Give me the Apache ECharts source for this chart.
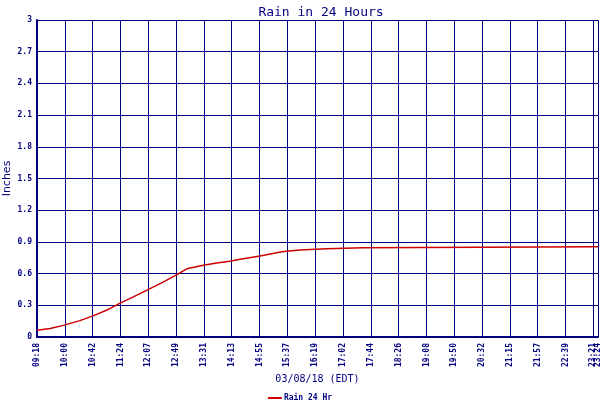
<!DOCTYPE html>
<html>
<head>
<meta charset="utf-8">
<script src="https://cdn.jsdelivr.net/npm/echarts@6/dist/echarts.min.js"></script>
<style>
  html, body { margin: 0; padding: 0; background: #fff; }
  #chart { width: 600px; height: 400px; }
</style>
</head>
<body>
<div id="chart"></div>
<script>
// readings (local time, EDT) and rain total in inches
const times = ['09:18', '09:38', '09:58', '10:23', '10:43', '11:04', '11:24', '11:44', '12:07', '12:29',
    '12:50', '13:05', '13:30', '13:50', '14:10', '14:26', '14:56', '15:29', '15:56', '16:37',
    '17:32', '17:33', '23:28']
const rain = [0.065, 0.08, 0.11, 0.155, 0.2, 0.255, 0.32, 0.38, 0.45, 0.52,
    0.59, 0.645, 0.68, 0.70, 0.716, 0.735, 0.767, 0.807, 0.823, 0.836,
    0.845, 0.855, 0.855]
// x axis tick labels, last one sits at the right edge
const tickLabels = ['09:18', '10:00', '10:42', '11:24', '12:07', '12:49', '13:31', '14:13', '14:55', '15:37',
    '16:19', '17:02', '17:44', '18:26', '19:08', '19:50', '20:32', '21:15', '21:57', '22:39',
    '23:21', '23:24']

const navy = '#000080'
const toMin = t => {
    let p = t.split(':')
    return p[0] * 60 + p[1] * 1
}
const start = toMin(times[0])
const end = toMin(times[times.length - 1]) - start
const step = 42.15

const labelStyle = {
    rotate: 90,
    margin: 6,
    color: navy,
    fontFamily: 'DejaVu Sans Mono',
    fontSize: 8,
    fontWeight: 'bold',
}

let myChart = echarts.init(document.getElementById('chart'))
let option = {
    animation: false,
    title: {
        text: 'Rain in 24 Hours',
        left: 316,
        top: 1,
        textAlign: 'center',
        textStyle: { color: navy, fontFamily: 'DejaVu Sans Mono', fontSize: 13, fontWeight: 'normal' },
    },
    legend: {
        top: 389,
        left: 'center',
        icon: 'rect',
        itemWidth: 14,
        itemHeight: 2,
        itemGap: 2,
        textStyle: { color: navy, fontFamily: 'DejaVu Sans Mono', fontSize: 8, fontWeight: 'bold', padding: [0, 0, 0, -3] },
        data: ['Rain 24 Hr'],
    },
    grid: { left: 37, right: 2, top: 20, bottom: 63, containLabel: false, outerBoundsMode: 'none' },
    xAxis: [
        {
            type: 'value',
            min: 0,
            max: end,
            interval: step,
            name: '03/08/18 (EDT)',
            nameLocation: 'middle',
            nameGap: 37,
            nameMoveOverlap: false,
            nameTextStyle: { color: navy, fontFamily: 'DejaVu Sans Mono', fontSize: 10 },
            axisLine: { show: true, lineStyle: { color: navy, width: 2 } },
            axisTick: { show: false },
            splitLine: { show: true, lineStyle: { color: navy, width: 1 } },
            axisLabel: Object.assign({}, labelStyle, {
                showMaxLabel: false,
                formatter: v => tickLabels[Math.round(v / step)],
            }),
        },
        {
            // only carries the end-of-range label, which overlaps 23:21 like the original
            type: 'value',
            position: 'bottom',
            min: 0,
            max: end,
            interval: step,
            axisLine: { show: false },
            axisTick: { show: false },
            splitLine: { show: false },
            axisLabel: Object.assign({}, labelStyle, {
                showMinLabel: false,
                showMaxLabel: true,
                formatter: v => (v >= end ? tickLabels[tickLabels.length - 1] : ''),
            }),
        },
    ],
    yAxis: {
        type: 'value',
        min: 0,
        max: 3,
        interval: 0.3,
        name: 'Inches',
        nameLocation: 'middle',
        nameGap: 24,
        nameMoveOverlap: false,
        nameTextStyle: { color: navy, fontFamily: 'DejaVu Sans', fontSize: 11 },
        axisLine: { show: true, lineStyle: { color: navy, width: 2 } },
        axisTick: { show: false },
        splitLine: { show: true, lineStyle: { color: navy, width: 1 } },
        axisLabel: { color: navy, fontFamily: 'DejaVu Sans Mono', fontSize: 8, fontWeight: 'bold', margin: 5 },
    },
    series: [
        {
            name: 'Rain 24 Hr',
            type: 'line',
            symbol: 'none',
            lineStyle: { color: '#cc0000', width: 1.5 },
            itemStyle: { color: '#cc0000' },
            data: times.map((t, i) => [toMin(t) - start, rain[i]]),
        },
    ],
}
myChart.setOption(option)
</script>
</body>
</html>
